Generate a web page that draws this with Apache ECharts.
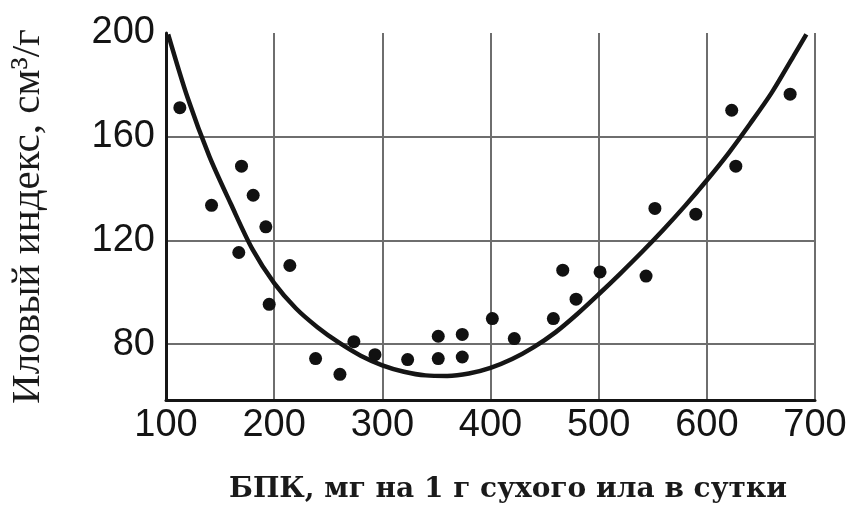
<!DOCTYPE html>
<html>
<head>
<meta charset="utf-8">
<script src="https://cdn.jsdelivr.net/npm/echarts@6/dist/echarts.min.js"></script>
<style>html,body{margin:0;padding:0;background:#fff}#c{width:852px;height:512px}</style>
</head>
<body>
<div id="c"></div>
<script>
// Observed points (BOD, sludge index)
const pointX = [112.8, 142.1, 169.8, 180.6, 167.3, 192.3, 214.5, 195.4, 238.3, 260.8, 273.7, 293.2, 323.4, 351.7, 351.7, 373.9, 373.9, 401.7, 422, 458.1, 466.8, 479.1, 501.3, 543.8, 552, 589.8, 623, 626.8, 677];
const pointY = [171.2, 133.5, 148.6, 137.4, 115.3, 125.2, 110.3, 95.3, 74.4, 68.3, 80.9, 75.9, 74.0, 83.0, 74.4, 83.7, 75.0, 89.8, 82.1, 89.8, 108.5, 97.3, 107.8, 106.2, 132.3, 130.1, 170.2, 148.6, 176.4];
// Fitted curve
const curveX = [102, 120, 140, 160, 180, 200, 220, 240, 260, 280, 300, 320, 340, 360, 380, 400, 420, 440, 460, 480, 500, 520, 540, 560, 580, 600, 620, 640, 660, 680, 692];
const curveY = [199.5, 175, 152.5, 134, 116.5, 103.5, 93.8, 86.5, 80.5, 75.5, 71.8, 69.3, 67.9, 67.7, 68.6, 70.8, 74.2, 78.8, 84.5, 91.5, 99.2, 107.2, 115.5, 124.2, 133.4, 143.2, 153.6, 165, 177, 191, 199.5];
const yTicks = [80, 120, 160, 200];
const xTicks = [100, 200, 300, 400, 500, 600, 700];
const xName = 'БПК, мг на 1 г сухого ила в сутки';
const yName = 'Иловый индекс, см³/г';

const chart = echarts.init(document.getElementById('c'), null, {renderer: 'canvas'});
const labelFont = {fontFamily: '"Liberation Sans", Arial, sans-serif', fontSize: 38, color: '#141414'};
chart.setOption({
  animation: false,
  backgroundColor: '#ffffff',
  title: {
    text: xName,
    left: 224, top: 471,
    textStyle: {fontFamily: '"DejaVu Serif", serif', fontSize: 28, fontWeight: 'bold', color: '#1a1a1a'}
  },
  grid: {left: 166, right: 37, top: 33, bottom: 112, containLabel: false, outerBoundsMode: 'none'},
  xAxis: {
    type: 'value', min: 100, max: 700, interval: 100,
    axisLine: {show: true, lineStyle: {color: '#151515', width: 3}},
    axisTick: {show: false},
    axisLabel: Object.assign({margin: 7}, labelFont),
    splitLine: {show: true, lineStyle: {color: '#6e6e6e', width: 2}}
  },
  yAxis: {
    type: 'value', min: 58.4, max: 200,
    name: yName, nameLocation: 'middle', nameGap: 117,
    nameTextStyle: {fontFamily: '"Liberation Serif", "Times New Roman", serif', fontSize: 41, color: '#1a1a1a'},
    axisLine: {show: true, lineStyle: {color: '#151515', width: 3}},
    axisTick: {show: false, customValues: yTicks},
    axisLabel: Object.assign({margin: 11, customValues: yTicks}, labelFont),
    splitLine: {show: true, showMaxLine: false, lineStyle: {color: '#6e6e6e', width: 2}}
  },
  series: [
    {
      type: 'line', smooth: 0.3, showSymbol: false, z: 3,
      lineStyle: {color: '#151515', width: 4.5},
      data: curveX.map((x, i) => [x, curveY[i]])
    },
    {
      type: 'scatter', symbolSize: 13, z: 4,
      itemStyle: {color: '#111111', opacity: 1},
      data: pointX.map((x, i) => [x, pointY[i]])
    }
  ]
});
</script>
</body>
</html>
